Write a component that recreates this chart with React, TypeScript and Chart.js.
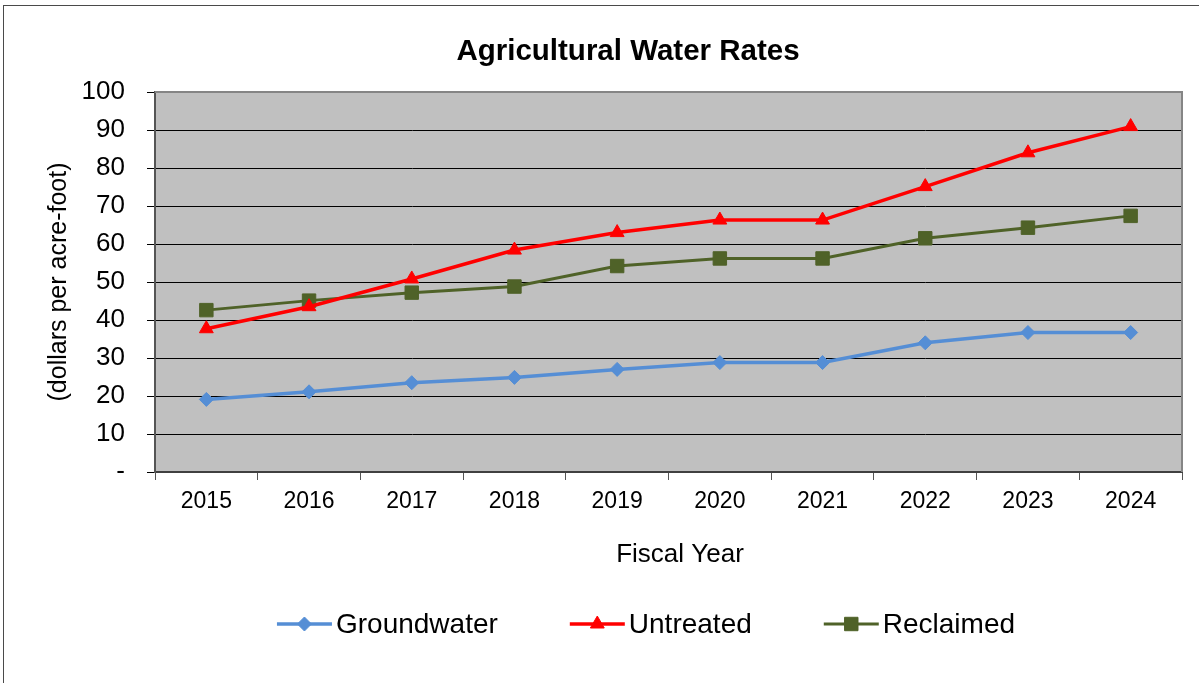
import React, { useEffect, useRef } from 'react';
import { Chart, registerables } from 'chart.js';
import { drawPoint } from 'chart.js/helpers';

Chart.register(...registerables);

// Fiscal years on the category axis
const fiscalYears = ['2015', '2016', '2017', '2018', '2019', '2020', '2021', '2022', '2023', '2024'];

// Rates in dollars per acre-foot
const groundwater = [19.1, 21.1, 23.5, 24.9, 27.0, 28.8, 28.8, 34.0, 36.7, 36.7];
const untreated = [37.7, 43.5, 50.8, 58.4, 63.0, 66.3, 66.3, 75.1, 84.0, 90.9];
const reclaimed = [42.6, 45.1, 47.2, 48.8, 54.2, 56.2, 56.2, 61.5, 64.3, 67.4];

const seriesNames = ['Groundwater', 'Untreated', 'Reclaimed'];

const chartTitle = 'Agricultural Water Rates';
const xAxisTitle = 'Fiscal Year';
const yAxisTitle = '(dollars per acre-foot)';

const FONT = '"Liberation Sans", Arial, Helvetica, sans-serif';

// Plot background, plot frame, titles and the line-and-marker legend
const decorations = {
  id: 'decorations',
  beforeDraw(chart: any) {
    const { ctx, chartArea } = chart;
    const { left, top, right, bottom } = chartArea;
    ctx.save();
    ctx.fillStyle = '#c0c0c0';
    ctx.fillRect(left, top, right - left, bottom - top);
    ctx.restore();
  },
  beforeDatasetsDraw(chart: any) {
    const { ctx, chartArea } = chart;
    const { left, top, right, bottom } = chartArea;
    ctx.save();
    ctx.strokeStyle = '#858585';
    ctx.lineWidth = 2;
    ctx.beginPath();
    ctx.moveTo(left, top);
    ctx.lineTo(right, top);
    ctx.lineTo(right, bottom);
    ctx.stroke();
    ctx.restore();
  },
  afterDraw(chart: any) {
    const { ctx, chartArea } = chart;
    ctx.save();
    ctx.fillStyle = '#000';
    ctx.textBaseline = 'middle';
    ctx.textAlign = 'center';

    ctx.font = `bold 29.5px ${FONT}`;
    ctx.fillText(chartTitle, 628, 52);

    ctx.font = `26px ${FONT}`;
    ctx.fillText(xAxisTitle, 680, 555);

    ctx.save();
    ctx.translate(59, (chartArea.top + chartArea.bottom) / 2);
    ctx.rotate(-Math.PI / 2);
    ctx.font = `25px ${FONT}`;
    ctx.fillText(yAxisTitle, 0, 0);
    ctx.restore();

    // legend
    const lineLen = 55;
    const gapText = 4;
    const gapItem = 72;
    const y = 624;
    ctx.font = `28px ${FONT}`;
    ctx.textAlign = 'left';
    const items = chart.data.datasets.map((ds: any) => ({
      ds,
      w: ctx.measureText(ds.label).width,
    }));
    const total =
      items.reduce((s: number, it: any) => s + lineLen + gapText + it.w, 0) + gapItem * (items.length - 1);
    let x = 646 - total / 2;
    items.forEach(({ ds, w }: any) => {
      ctx.strokeStyle = ds.borderColor;
      ctx.lineWidth = ds.borderWidth;
      ctx.beginPath();
      ctx.moveTo(x, y);
      ctx.lineTo(x + lineLen, y);
      ctx.stroke();
      ctx.fillStyle = ds.pointBackgroundColor;
      ctx.strokeStyle = ds.pointBorderColor;
      ctx.lineWidth = 1;
      drawPoint(ctx, { pointStyle: ds.pointStyle, radius: ds.pointRadius, rotation: 0, borderWidth: 1 } as any, x + lineLen / 2, y);
      ctx.fillStyle = '#000';
      ctx.fillText(ds.label, x + lineLen + gapText, y + 1);
      x += lineLen + gapText + w + gapItem;
    });
    ctx.restore();
  },
};

function makeSeries(label: string, data: number[], color: string, style: string, radius: number, width: number) {
  return {
    label,
    data,
    borderColor: color,
    backgroundColor: color,
    borderWidth: width,
    pointStyle: style,
    pointRadius: radius,
    pointBackgroundColor: color,
    pointBorderColor: color,
    pointBorderWidth: 1,
    tension: 0,
    fill: false,
  };
}

export default function App() {
  const canvasRef = useRef<HTMLCanvasElement | null>(null);

  useEffect(() => {
    const canvas = canvasRef.current;
    if (!canvas) return;
    const chart = new Chart(canvas, {
      type: 'line',
      data: {
        labels: fiscalYears,
        datasets: [
          makeSeries(seriesNames[0], groundwater, '#558ed5', 'rectRot', 7, 3.5),
          makeSeries(seriesNames[1], untreated, '#ff0000', 'triangle', 8, 3.5),
          makeSeries(seriesNames[2], reclaimed, '#4f6228', 'rect', 9.5, 3),
        ],
      },
      options: {
        responsive: false,
        maintainAspectRatio: false,
        animation: false,
        events: [],
        layout: { padding: { left: 0, right: 17, top: 92, bottom: 0 } },
        plugins: {
          legend: { display: false },
          title: { display: false },
          tooltip: { enabled: false },
        },
        scales: {
          x: {
            type: 'category',
            offset: true,
            afterFit(scale: any) {
              scale.height = 211;
            },
            grid: {
              offset: true,
              drawOnChartArea: false,
              drawTicks: true,
              tickLength: 8,
              color: '#555',
              lineWidth: 1,
            },
            border: { display: true, color: '#404040', width: 2 },
            ticks: {
              color: '#000',
              padding: 8,
              maxRotation: 0,
              autoSkip: false,
              font: { family: FONT, size: 23 },
            },
          },
          y: {
            min: 0,
            max: 100,
            afterFit(scale: any) {
              scale.width = 155;
            },
            grid: {
              color: (c: any) => (c.tick && c.tick.value === 100 ? 'rgba(0,0,0,0)' : '#000'),
              tickColor: '#000',
              lineWidth: 1,
              drawTicks: true,
              tickLength: 8,
            },
            border: { display: true, color: '#555', width: 2 },
            ticks: {
              stepSize: 10,
              color: '#000',
              padding: 22,
              font: { family: FONT, size: 26 },
              callback: (v: any) => (Number(v) === 0 ? '-' : String(v)),
            },
          },
        },
      },
      plugins: [decorations],
    } as any);
    return () => chart.destroy();
  }, []);

  return (
    <div
      style={{
        position: 'fixed',
        left: 0,
        top: 0,
        width: 1199,
        height: 683,
        background: '#fff',
        overflow: 'hidden',
      }}
    >
      <div
        style={{
          position: 'absolute',
          left: 3,
          top: 5,
          width: 1260,
          height: 720,
          border: '1px solid #4a4a4a',
          boxSizing: 'border-box',
        }}
      />
      <canvas
        ref={canvasRef}
        width={1199}
        height={683}
        style={{ position: 'absolute', left: 0, top: 0, width: 1199, height: 683 }}
      />
    </div>
  );
}
